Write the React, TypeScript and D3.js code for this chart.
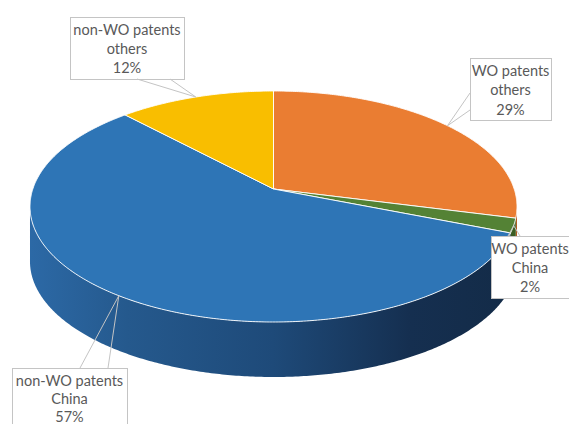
import * as d3 from 'd3';

// slice data, in drawing order (clockwise from 12 o'clock)
const categories = ['WO patents others', 'WO patents China', 'non-WO patents China', 'non-WO patents others'];
const labelNames = [['WO patents', 'others'], ['WO patents', 'China'], ['non-WO patents', 'China'], ['non-WO patents', 'others']];
const shares = [29, 2, 57, 12];
const percentLabels = ['29%', '2%', '57%', '12%'];

const topColors = ['#EA7D32', '#548235', '#2E75B6', '#F9BE00'];
const sideColors = ['#B05C22', '#3B5E25', 'url(#blueSide)', '#BB8E00'];

const W = 569;
const H = 424;

// 3d-ish projection of the pie disc (perspective tilt)
const cx = 273.5;
const cy = 189;
const rx = 240.7;
const ry = 112.85;
const persp = 0.1515;
const depth = 55;

const project = (t: number, dy = 0): [number, number] => {
  const u = Math.sin(t), v = Math.cos(t);
  const k = 1 + persp * v;
  return [cx + (rx * u) / k, cy - (ry * v) / k + dy];
};

const curve = (t0: number, t1: number, dy = 0) => {
  const n = Math.max(2, Math.ceil(Math.abs(t1 - t0) / 0.01));
  return d3.range(n + 1).map(i => project(t0 + ((t1 - t0) * i) / n, dy));
};

// visible front of the rim: between the two horizontal extremes
const rightEdge = Math.acos(-persp);
const leftEdge = 2 * Math.PI - rightEdge;

// label boxes (layout)
const boxes = [
  { x: 470, y: 58, w: 81, h: 62, tx: 510.5, gap: 19.5, base: [[470, 93], [470, 110]] },
  { x: 491, y: 236, w: 82, h: 62, tx: 530, gap: 19, base: [[508, 236], [520, 236]] },
  { x: 12, y: 368, w: 115, h: 62, tx: 69.5, gap: 18, base: [[80, 368], [108, 368]] },
  { x: 70, y: 17, w: 114, h: 62, tx: 127, gap: 19, base: [[137, 79], [170, 79]] },
];

const App = () => {
  const pie = d3.pie<number>().sort(null).value(d => d)
    .startAngle(0).endAngle(2 * Math.PI);
  const arcs = pie(shares);
  const line = d3.line();

  const topPath = (s: number, e: number) =>
    line([[cx, cy], ...curve(s, e)])! + 'Z';

  const sidePath = (s: number, e: number) => {
    const a = Math.max(s, rightEdge);
    const b = Math.min(e, leftEdge);
    if (b <= a) return null;
    return line([...curve(a, b), ...curve(b, a, depth)])! + 'Z';
  };

  return (
    <svg width={W} height={H} style={{ position: 'absolute', left: 0, top: 0, background: '#fff' }}
      fontFamily="Lato, 'Noto Sans', sans-serif">
      <defs>
        <linearGradient id="blueSide" gradientUnits="userSpaceOnUse" x1={30} x2={517} y1={0} y2={0}>
          <stop offset="0" stopColor="#2C69A6" />
          <stop offset="0.2" stopColor="#25598D" />
          <stop offset="0.5" stopColor="#1E4A79" />
          <stop offset="0.78" stopColor="#152F50" />
          <stop offset="1" stopColor="#132B47" />
        </linearGradient>
      </defs>

      {/* rim */}
      {arcs.map((d, i) => {
        const p = sidePath(d.startAngle, d.endAngle);
        return p ? <path key={'s' + i} d={p} fill={sideColors[i]} /> : null;
      })}

      {/* top surface */}
      {arcs.map((d, i) => (
        <path key={'t' + i} d={topPath(d.startAngle, d.endAngle)} fill={topColors[i]}
          stroke="#ffffff" strokeWidth={0.9} strokeLinejoin="round">
          <title>{categories[i]}</title>
        </path>
      ))}

      {/* callout labels */}
      {arcs.map((d, i) => {
        const bx = boxes[i];
        const tip = project((d.startAngle + d.endAngle) / 2);
        const lines = [...labelNames[i], percentLabels[i]];
        return (
          <g key={'l' + i}>
            <rect x={bx.x + 0.5} y={bx.y + 0.5} width={bx.w} height={bx.h} fill="#fff" stroke="#C4C4C4" />
            {bx.base.map((pt, j) => (
              <line key={j} x1={pt[0]} y1={pt[1]} x2={tip[0]} y2={tip[1]} stroke="#C4C4C4" />
            ))}
            {lines.map((t, j) => (
              <text key={j} x={bx.tx} y={bx.y + 12.5 + j * bx.gap} dy="0.35em"
                textAnchor="middle" fontSize={14.5} fill="#595959">{t}</text>
            ))}
          </g>
        );
      })}
    </svg>
  );
};

export default App;
